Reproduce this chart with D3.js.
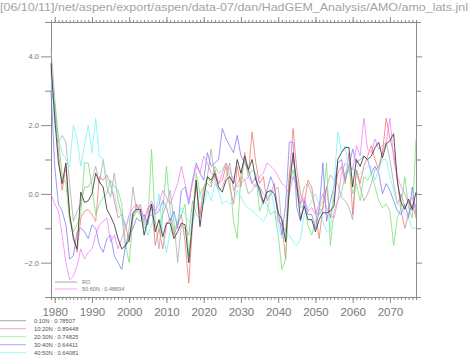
<!DOCTYPE html>
<html><head><meta charset="utf-8">
<script src="https://cdn.jsdelivr.net/npm/d3@7"></script>
<style>
html,body{margin:0;padding:0;background:#fff;}
svg{display:block;}
text{font-family:"Liberation Sans",Arial,sans-serif;}
</style></head>
<body>
<svg id="c" width="470" height="356"></svg>
<script>
const titleText = "[06/10/11]/net/aspen/export/aspen/data-07/dan/HadGEM_Analysis/AMO/amo_lats.jnl";
const startYear = 1979;
const endYear = 2077;
const yTicksMajor = [-2, 0, 2, 4];
const yTicksMinor = [-3, -1, 1, 3, 5];
const xLabelTicks = [1980, 1990, 2000, 2010, 2020, 2030, 2040, 2050, 2060, 2070];

const lat0_10 = [3.8,2.2,0.9,0.3,0.9,-0.6,-1.3,-1.6,0.05,-0.25,
 -0.2,0.0,0.6,0.35,0.2,-0.45,-0.65,-0.9,-1.3,-1.6,
 -1.5,-1.35,-0.55,-0.45,-0.45,-1.2,-0.75,-0.3,-1.1,-0.75,
 -1.25,-0.85,-0.85,-1.3,-1.1,-0.85,-0.9,-2.0,-0.8,0.4,
 -0.95,-0.15,0.5,0.4,0.6,0.2,0.05,0.4,0.5,0.3,
 1.0,0.6,1.1,0.7,1.0,0.4,0.15,-0.25,0.05,0.1,
 0.0,-0.55,-0.75,-1.4,0.15,1.2,0.25,-0.75,-0.35,-0.75,
 -0.75,-1.1,-0.75,-0.55,-0.55,-0.5,-0.35,1.0,1.2,1.35,
 1.35,0.2,1.0,0.8,1.1,1.0,1.1,1.35,1.5,1.05,
 1.45,1.55,1.75,0.35,-0.25,-0.45,-0.15,-0.45,0.05];
const lat10_20 = [3.6,2.4,1.2,0.1,0.8,-0.6,-1.2,-1.7,-0.7,-0.5,
 -0.45,-0.6,-0.8,0.5,0.4,0.55,0.3,-0.2,-0.7,-0.6,
 -0.9,-1.4,-0.7,-0.3,-0.6,-0.8,-0.4,-0.3,-1.5,-1.0,
 -1.6,-0.9,-0.7,-1.2,-0.9,-0.6,-1.4,-2.6,-0.9,0.3,
 -0.6,0.2,0.3,0.2,0.7,0.3,0.4,0.8,0.2,-0.3,
 0.8,0.2,1.2,0.6,1.8,0.9,0.3,0.5,-0.2,0.0,
 0.3,-0.8,-0.9,-1.9,0.5,1.9,0.7,0.0,-0.3,0.4,
 0.2,-0.5,-1.3,-0.4,0.2,-0.7,-0.1,0.6,0.8,0.3,
 1.2,-0.6,0.7,0.3,0.8,1.1,1.4,1.0,0.7,1.2,
 2.2,1.6,1.2,0.4,-0.5,-1.0,-0.6,-0.3,-0.7];
const lat20_30 = [3.0,2.6,1.6,0.5,0.3,-0.8,-1.1,-0.9,-0.6,0.9,
 0.9,0.2,-0.6,-0.3,-0.1,0.0,0.4,0.2,0.1,-0.3,
 -1.5,-2.0,-0.7,-0.5,-0.6,-1.0,-0.8,1.3,-0.9,-1.0,
 -0.5,0.8,-0.5,-1.1,-0.8,-0.6,-0.3,-1.8,-0.6,0.6,
 0.0,0.2,0.5,0.3,0.8,0.6,0.7,0.9,0.5,-0.8,
 -1.3,0.6,1.0,0.5,0.7,0.6,-0.5,-0.2,-0.3,-0.6,
 -0.5,-1.2,-2.2,-1.9,0.2,0.7,0.1,-0.4,-0.3,-0.9,
 -1.2,-0.8,-0.4,-0.2,0.9,-1.5,-0.5,-0.2,0.0,0.6,
 0.8,0.0,0.3,-0.2,0.5,0.4,0.6,0.2,-0.2,-0.4,
 -0.3,-0.5,-1.5,-0.7,-0.4,0.5,-0.4,-0.7,1.6];
const lat30_40 = [3.0,0.8,-0.3,-0.5,-0.9,-1.9,-1.8,-1.1,-1.0,-1.1,
 -1.3,-0.9,-1.0,-1.5,-1.7,-1.3,-1.2,-1.8,-2.0,-2.2,
 -1.5,-1.2,-1.0,-0.7,-0.8,-0.6,-0.9,-0.3,-0.6,-0.5,
 -0.2,-0.4,-0.8,-0.5,-1.0,0.1,0.2,-0.3,0.4,0.9,
 0.6,0.4,1.2,0.8,0.9,1.0,1.9,1.6,1.4,1.2,
 1.7,1.1,0.9,0.7,0.3,0.5,0.0,-0.3,0.1,0.5,
 0.2,-0.5,-1.2,-0.3,1.5,1.5,-0.4,-0.8,-0.2,-0.6,
 -0.6,-1.0,-0.5,0.9,-0.8,-0.2,0.2,0.9,1.0,0.4,
 0.8,1.3,0.9,1.0,1.1,1.0,0.6,0.8,0.6,0.0,
 0.3,0.1,-0.2,-0.5,-0.6,-0.3,-0.7,0.2,-0.6];
const lat40_50 = [3.4,2.0,1.6,1.2,1.0,0.8,2.0,1.6,0.8,1.4,
 2.0,1.2,2.2,1.1,1.0,0.4,0.2,0.0,-0.5,-0.6,
 -1.0,-0.7,-0.6,-0.5,-0.5,-0.8,-1.2,-0.9,-0.6,0.0,
 -1.2,-1.7,-1.1,-0.6,-0.8,-0.4,-0.6,-0.8,-0.9,-0.4,
 0.0,-0.3,0.1,-0.2,0.3,0.1,-0.3,-0.2,-0.3,-0.2,
 0.1,-0.1,-0.3,-0.4,-0.5,-0.6,-0.7,-0.8,-0.6,0.1,
 -0.4,-0.9,-1.3,-1.1,-1.2,-1.4,-1.5,-1.3,-0.6,-0.4,
 -0.2,0.0,-0.3,-0.8,-1.1,-1.1,0.3,1.8,1.2,1.4,
 0.6,0.8,0.5,0.6,0.7,0.8,0.8,0.4,0.7,1.0,
 1.0,0.5,0.1,-0.3,-0.4,-0.6,-0.7,-1.0,-1.0];
const lat50_60 = [0.0,-0.3,-0.5,-1.2,-2.0,-2.5,-2.4,-2.1,-1.6,-1.9,
 -1.7,-1.6,-1.2,-0.9,-0.8,-0.7,-1.4,-1.2,-1.6,-1.3,
 -1.0,-0.6,-0.4,-0.3,-0.4,-0.7,-0.5,-0.2,-0.5,-0.3,
 0.1,-0.1,-0.3,0.0,0.3,0.8,0.3,-0.2,0.3,0.8,
 0.6,1.1,0.9,0.6,0.5,0.3,0.6,0.9,0.7,0.4,
 0.2,0.3,0.4,0.5,0.3,0.2,0.5,0.6,0.9,0.8,
 0.7,0.5,0.3,0.2,0.0,0.5,0.2,-0.3,-0.1,-0.5,
 -0.4,-0.6,-0.3,0.0,-0.4,-0.6,-0.7,-0.2,0.6,0.9,
 0.8,0.7,1.4,1.1,2.2,1.3,1.2,1.6,1.3,1.4,
 1.5,2.2,1.0,0.5,0.2,0.0,-0.3,-0.1,-0.4];
const ro = [4.2,2.8,1.5,1.7,1.5,0.3,-0.8,-0.5,-0.3,0.2,
 0.2,0.4,0.8,0.3,1.0,0.2,-0.1,0.6,-0.2,-0.6,
 -1.6,-1.0,0.2,-0.5,-0.3,-0.9,-0.7,-0.6,-0.8,-1.6,
 -0.6,-0.3,0.1,-0.8,-2.0,-0.9,-1.0,-1.2,-0.2,-0.6,
 -0.7,0.0,0.5,1.3,0.4,0.1,0.2,0.5,0.9,0.1,
 0.3,0.5,0.4,0.0,0.1,0.3,0.2,0.0,-0.1,0.0,
 0.1,0.2,-0.9,-1.1,0.6,1.0,0.4,-0.3,0.2,0.3,
 0.0,-0.5,-0.6,-0.4,0.2,0.55,0.4,0.3,-0.1,-0.2,
 -0.4,-0.75,0.7,0.2,-0.2,0.0,0.3,0.7,0.8,1.2,
 1.5,1.0,0.3,-0.3,0.0,-0.4,-0.2,-0.5,-0.3];

const seriesNames = ["RO","10:20N","20:30N","30:40N","40:50N","50:60N","0:10N"];
const seriesData = [ro, lat10_20, lat20_30, lat30_40, lat40_50, lat50_60, lat0_10];
const seriesColors = ["#a8a8a8","#f07070","#70e070","#7878f8","#70f4f4","#f878f8","#383838"];

const bottomLegendNames = ["0:10N : 0.78507","10:20N : 0.89448","20:30N : 0.74825","30:40N : 0.64411","40:50N : 0.64081"];
const bottomLegendColors = ["#909090","#f09090","#90e890","#9090f8","#90f4f4"];
const inLegendNames = ["RO","50:60N : 0.48834"];
const inLegendColors = ["#909090","#f890f8"];

const svg = d3.select("#c");
const L = 51, R = 416, T = 22, B = 297;
const x = d3.scaleLinear().domain([startYear, endYear]).range([L, R]);
const y = d3.scaleLinear().domain([-3, 5]).range([B, T]);
const years = d3.range(startYear, endYear + 1);

// title
svg.append("text").attr("x", 0).attr("y", 11)
  .attr("font-size", 11.5).attr("fill", "#a4a4a4")
  .attr("textLength", 468).attr("lengthAdjust", "spacingAndGlyphs")
  .text(titleText);

const axisColor = "#8a8a8a";
function styleAxis(g){
  g.select(".domain").attr("stroke", axisColor);
  g.selectAll(".tick line").attr("stroke", axisColor);
  g.selectAll("text").attr("fill", "#777");
}

// bottom axis: minor and major
svg.append("g").attr("transform", `translate(0,${B})`)
  .call(d3.axisBottom(x).tickValues(years).tickSize(3).tickSizeOuter(0).tickFormat(""))
  .call(styleAxis);
svg.append("g").attr("transform", `translate(0,${B})`)
  .call(d3.axisBottom(x).tickValues(xLabelTicks).tickSize(6).tickSizeOuter(0).tickFormat(d3.format("d")).tickPadding(5))
  .call(styleAxis)
  .call(g => { g.select(".domain").remove(); g.selectAll("text").attr("font-size", 11.5).attr("fill", "#7a7a7a").attr("font-family","Liberation Sans, Arial, sans-serif"); });

// top axis
svg.append("g").attr("transform", `translate(0,${T})`)
  .call(d3.axisTop(x).tickValues(years).tickSize(2).tickSizeOuter(0).tickFormat(""))
  .call(styleAxis);
svg.append("g").attr("transform", `translate(0,${T})`)
  .call(d3.axisTop(x).tickValues(xLabelTicks).tickSize(5).tickSizeOuter(0).tickFormat(""))
  .call(styleAxis).call(g => g.select(".domain").remove());

// left axis
svg.append("g").attr("transform", `translate(${L},0)`)
  .call(d3.axisLeft(y).tickValues(yTicksMinor).tickSize(6).tickSizeOuter(0).tickFormat(""))
  .call(styleAxis);
svg.append("g").attr("transform", `translate(${L},0)`)
  .call(d3.axisLeft(y).tickValues(yTicksMajor).tickSize(10).tickSizeOuter(0).tickFormat(d3.format(".1f")).tickPadding(2))
  .call(styleAxis)
  .call(g => { g.select(".domain").remove(); g.selectAll("text").attr("font-size", 7.5).attr("font-family","Liberation Sans, Arial, sans-serif")
      .text(d => (d < 0 ? "\u2212" + Math.abs(d).toFixed(1) : d.toFixed(1))); });

// right axis
svg.append("g").attr("transform", `translate(${R},0)`)
  .call(d3.axisRight(y).tickValues(yTicksMinor).tickSize(5).tickSizeOuter(0).tickFormat(""))
  .call(styleAxis);
svg.append("g").attr("transform", `translate(${R},0)`)
  .call(d3.axisRight(y).tickValues(yTicksMajor).tickSize(6).tickSizeOuter(0).tickFormat(""))
  .call(styleAxis).call(g => g.select(".domain").remove());

// series
const line = d3.line().x((d, i) => x(years[i])).y(d => y(d));
const plot = svg.append("g");
seriesData.forEach((s, k) => {
  plot.append("path").datum(s)
    .attr("fill", "none")
    .attr("stroke", seriesColors[k])
    .attr("stroke-width", k === 6 ? 0.85 : 0.75)
    .attr("stroke-linejoin", "round")
    .attr("d", line);
});

// legend inside plot
inLegendNames.forEach((n, i) => {
  const yy = 282 + i * 7;
  svg.append("line").attr("x1", 55).attr("x2", 77).attr("y1", yy).attr("y2", yy)
    .attr("stroke", inLegendColors[i]).attr("stroke-width", 0.8);
  svg.append("text").attr("x", 82).attr("y", yy + 2).attr("font-size", 5.5).attr("fill", "#777").text(n);
});

// legend below
bottomLegendNames.forEach((n, i) => {
  const yy = 320.7 + i * 8;
  svg.append("line").attr("x1", 0).attr("x2", 26).attr("y1", yy).attr("y2", yy)
    .attr("stroke", bottomLegendColors[i]).attr("stroke-width", 0.8);
  svg.append("text").attr("x", 34).attr("y", yy + 2).attr("font-size", 5.8).attr("fill", "#555").text(n);
});
</script>
</body></html>
